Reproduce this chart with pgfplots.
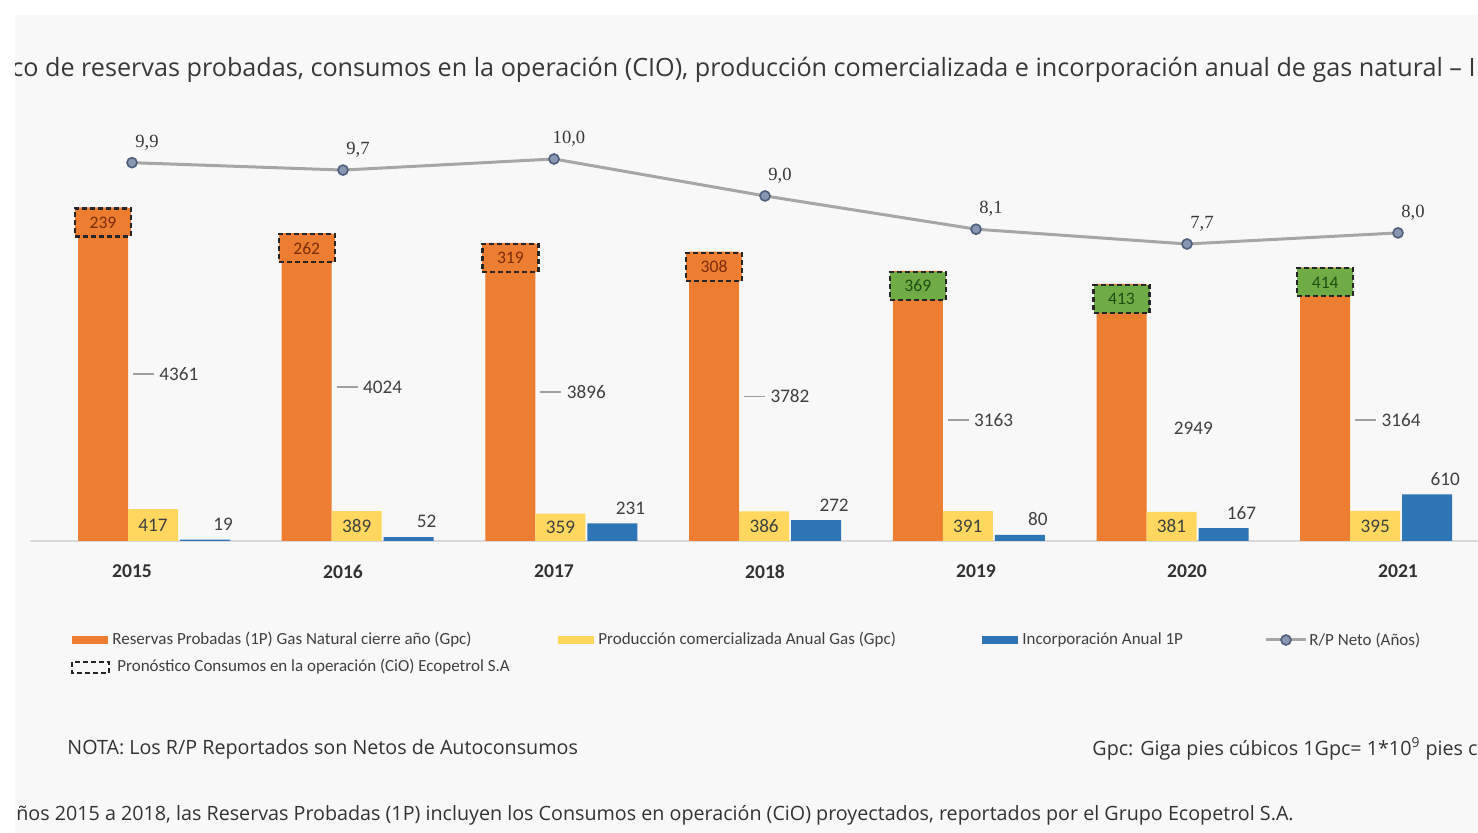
\documentclass[border=0pt]{standalone}
\usepackage{pgfplots}
\usepackage{pgfplotstable}
\pgfplotsset{compat=1.18}
\usepackage{fontspec}
\setmainfont{Carlito}
\newfontfamily\titlefont{Open Sans}
\newfontfamily\serifnum{Liberation Serif}

\definecolor{corange}{HTML}{ED7D31}
\definecolor{cyellow}{HTML}{FFD75E}
\definecolor{cblue}{HTML}{2E75B6}
\definecolor{cgreen}{HTML}{6FAC46}
\definecolor{cline}{HTML}{A6A6A6}
\definecolor{cmark}{HTML}{8797B2}
\definecolor{cmarkd}{HTML}{4F5E7A}
\definecolor{clabel}{HTML}{404040}
\definecolor{ctextA}{HTML}{7B2C0C}
\definecolor{ctextB}{HTML}{1F4E12}
\definecolor{cbase}{HTML}{D9D9D9}
\definecolor{cleader}{HTML}{A0A0A0}
\definecolor{cbg}{HTML}{F8F8F8}

\def\PX#1#2{({(#1)*0.5pt},{(833-(#2))*0.5pt})}

\pgfplotstableread{
x r c
0 4361 239
1 4024 262
2 3896 319
3 3782 308
}\reservesA
\pgfplotstableread{
x r c
4 3163 369
5 2949 413
6 3164 414
}\reservesB
\pgfplotstableread{
x p i
0 417 19
1 389 52
2 359 231
3 386 272
4 391 80
5 381 167
6 395 610
}\prodinc
\pgfplotstableread{
x v l
0 9.9 9,9
1 9.7 9,7
2 10.0 10,0
3 9.0 9,0
4 8.1 8,1
5 7.7 7,7
6 8.0 8,0
}\rp

\tikzset{
  ciobox/.style={anchor=north, draw=black!85, dash pattern=on 2.5pt off 1.5pt,
    line width=1.1pt, minimum width=28pt, minimum height=14pt, inner sep=0pt,
    font=\fontsize{8.8}{9}\selectfont},
  datalab/.style={font=\fontsize{9.6}{10}\selectfont, text=clabel},
}

\begin{document}
\begin{tikzpicture}
\path[use as bounding box] \PX{0}{0} rectangle \PX{1478}{833};
\fill[white] \PX{0}{0} rectangle \PX{1478}{833};
\clip \PX{15}{15} rectangle \PX{1478}{833};
\fill[cbg] \PX{15}{15} rectangle \PX{1478}{833};

% title
\node[anchor=west, inner sep=0pt, text=black!78] at \PX{11}{70}
  {\resizebox{732pt}{!}{\titlefont co de reservas probadas, consumos en la operación (CIO), producción comercializada e incorporación anual de gas natural – I}};

% bars
\begin{axis}[
  at={(15pt,146pt)}, anchor=south west, scale only axis,
  width=724pt, height=205.5pt,
  xmin=-0.3584, xmax=6.75, ymin=0, ymax=5372.5,
  axis x line=bottom, axis y line=none,
  x axis line style={-, draw=cbase, line width=0.8pt},
  xtick=\empty, ytick=\empty, clip=false,
  bar width=25pt,
]
\addplot[ybar, bar shift=0pt, fill=corange, draw=none,
  nodes near coords, point meta=explicit symbolic,
  every node near coord/.append style={ciobox, fill=corange, text=ctextA}]
  table[x=x, y=r, meta=c]{\reservesA};
\addplot[ybar, bar shift=0pt, fill=corange, draw=none,
  nodes near coords, point meta=explicit symbolic,
  every node near coord/.append style={ciobox, fill=cgreen, text=ctextB}]
  table[x=x, y expr=\thisrow{r}+\thisrow{c}, meta=c]{\reservesB};
\addplot[ybar, bar shift=25pt, fill=cyellow, draw=none] table[x=x, y=p]{\prodinc};
\addplot[ybar, bar shift=51pt, fill=cblue, draw=none,
  nodes near coords, point meta=explicit symbolic,
  every node near coord/.append style={datalab, anchor=south, xshift=60pt, yshift=1pt}]
  table[x=x, y=i, meta=i]{\prodinc};
% labels inside yellow bars
\addplot[draw=none, mark=none, nodes near coords, point meta=explicit symbolic,
  every node near coord/.append style={datalab, anchor=center, xshift=25pt}]
  table[x=x, y expr=\thisrow{p}/2, meta=p]{\prodinc};
% reserve labels with leader lines
\addplot[draw=none, mark=none, nodes near coords, point meta=explicit symbolic,
  every node near coord/.append style={datalab, anchor=west, xshift=27pt, inner sep=1pt,
    append after command={([xshift=-1.5pt]\tikzlastnode.west) edge[draw=cleader, line width=0.7pt] ++(-10.5pt,0pt)}}]
  table[x=x, y expr=\thisrow{r}/2, meta=r]{\reservesA};
\addplot[draw=none, mark=none, nodes near coords, point meta=explicit symbolic,
  skip coords between index={1}{2},
  every node near coord/.append style={datalab, anchor=west, xshift=27pt, inner sep=1pt,
    append after command={([xshift=-1.5pt]\tikzlastnode.west) edge[draw=cleader, line width=0.7pt] ++(-10.5pt,0pt)}}]
  table[x=x, y expr=\thisrow{r}/2, meta=r]{\reservesB};
\addplot[draw=none, mark=none, nodes near coords, point meta=explicit symbolic,
  skip coords between index={0}{1}, skip coords between index={2}{3},
  every node near coord/.append style={datalab, anchor=west, xshift=25pt, inner sep=1pt}]
  table[x=x, y expr=\thisrow{r}/2, meta=r]{\reservesB};
\end{axis}

% line R/P and year labels
\begin{axis}[
  at={(15pt,146pt)}, anchor=south west, scale only axis,
  width=724pt, height=205.5pt,
  xmin=-0.4834, xmax=6.3791, ymin=-0.3355, ymax=10.7846,
  axis line style={draw=none}, tick style={draw=none}, ytick=\empty,
  xtick={0,1,2,3,4,5,6},
  xticklabels={2015,2016,2017,2018,2019,2020,2021},
  xticklabel style={font=\bfseries\fontsize{9.8}{11}\selectfont, text=black!80, yshift=-8.5pt},
  clip=false,
]
\addplot[color=cline, line width=1.5pt, mark=*, mark size=2.5pt,
  mark options={fill=cmark, draw=cmarkd, line width=0.8pt},
  nodes near coords, point meta=explicit symbolic,
  every node near coord/.append style={anchor=south, xshift=7.5pt, yshift=2.5pt,
    font=\serifnum\fontsize{9.3}{10}\selectfont, text=black!78}]
  table[x=x, y=v, meta=l]{\rp};
\end{axis}

% legend
\begin{scope}[every node/.style={anchor=west, inner sep=0pt, text=clabel, font=\fontsize{8.5}{9}\selectfont}]
\fill[corange] \PX{72}{636} rectangle \PX{108}{644};
\node at \PX{112}{640} {Reservas Probadas (1P) Gas Natural cierre año (Gpc)};
\fill[cyellow] \PX{558}{636} rectangle \PX{594}{644};
\node at \PX{598}{640} {Producción comercializada Anual Gas (Gpc)};
\fill[cblue] \PX{982}{636} rectangle \PX{1018}{644};
\node at \PX{1022}{640} {Incorporación Anual 1P};
\draw[cline, line width=1.5pt] \PX{1266}{640} -- \PX{1306}{640};
\filldraw[fill=cmark, draw=cmarkd, line width=0.8pt] \PX{1286}{640} circle (2.5pt);
\node at \PX{1309}{640} {R/P Neto (Años)};
\draw[black!85, dash pattern=on 2.5pt off 1.5pt, line width=1.1pt] \PX{72}{662} rectangle \PX{109}{673};
\node at \PX{117}{667} {Pronóstico Consumos en la operación (CiO) Ecopetrol S.A};
\end{scope}

% notes
\begin{scope}[every node/.style={anchor=west, inner sep=0pt, text=black!80, font=\titlefont\fontsize{9.85}{10}\selectfont}]
\node at \PX{67}{749} {NOTA: Los R/P Reportados son Netos de Autoconsumos};
\node at \PX{1092}{749} {Gpc: Giga pies cúbicos 1Gpc= 1*10\textsuperscript{9} pies cúbicos};
\node at \PX{16}{815} {ños 2015 a 2018, las Reservas Probadas (1P) incluyen los Consumos en operación (CiO) proyectados, reportados por el Grupo Ecopetrol S.A.};
\end{scope}
\end{tikzpicture}
\end{document}
